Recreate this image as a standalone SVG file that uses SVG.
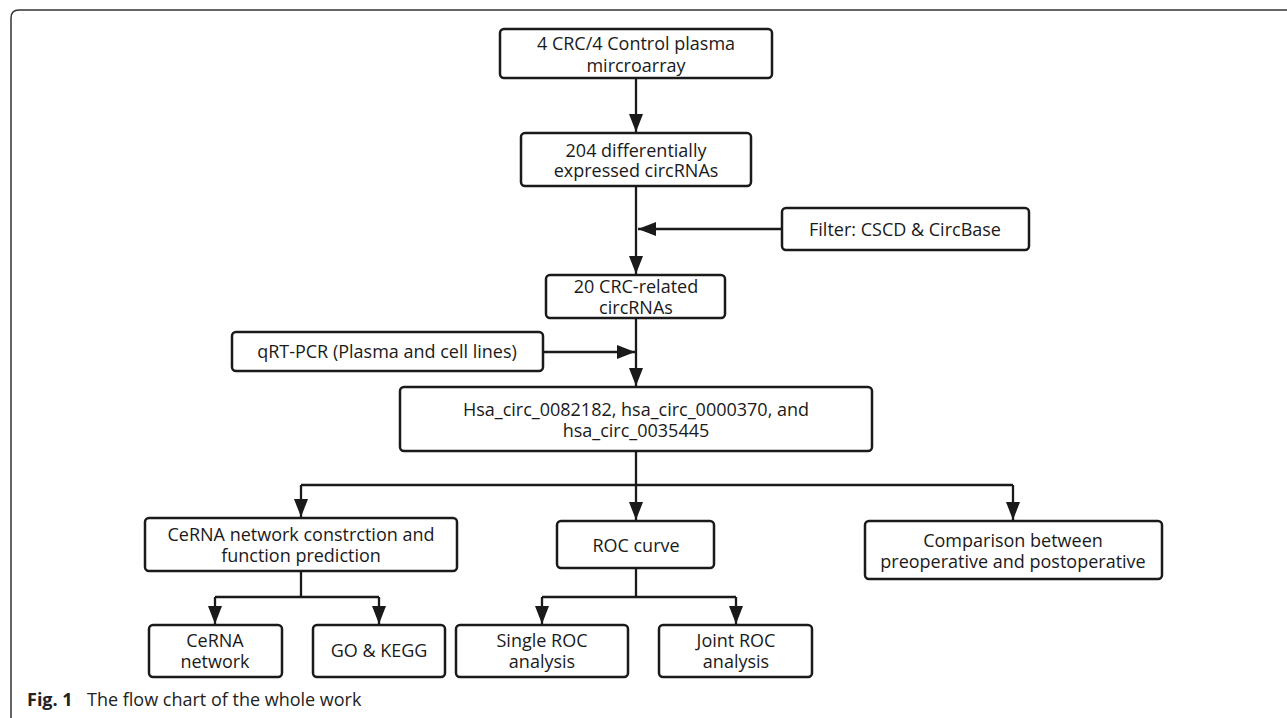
<svg xmlns="http://www.w3.org/2000/svg" width="1287" height="718" viewBox="0 0 1287 718">
<style>
.box{fill:#fff;stroke:#1a1a1a;stroke-width:2.5}
.t{font-family:"Open Sans","Noto Sans","DejaVu Sans",sans-serif;font-size:18px;fill:#1a1a1a;text-anchor:middle}
.c{fill:none;stroke:#1a1a1a;stroke-width:2.3}
.cap{font-family:"Open Sans","Noto Sans","DejaVu Sans",sans-serif;font-size:18px;fill:#222}
</style>
<defs>
<marker id="ah" markerUnits="userSpaceOnUse" markerWidth="19" markerHeight="14" refX="18" refY="7" orient="auto">
<path d="M0,0 L18,7 L0,14 z" fill="#1a1a1a"/>
</marker>
</defs>
<rect width="1287" height="718" fill="#fff"/>
<path d="M11,718 V18 Q11,10 19,10 H1287" fill="none" stroke="#333" stroke-width="1.5"/>

<g id="connectors">
<path class="c" d="M636,78 V132" marker-end="url(#ah)"/>
<path class="c" d="M636,186 V274" marker-end="url(#ah)"/>
<path class="c" d="M781,229 H638" marker-end="url(#ah)"/>
<path class="c" d="M636,318 V386" marker-end="url(#ah)"/>
<path class="c" d="M543,352 H635" marker-end="url(#ah)"/>
<path class="c" d="M636,451 V485"/>
<path class="c" d="M301,485 H1013"/>
<path class="c" d="M301,485 V517" marker-end="url(#ah)"/>
<path class="c" d="M636,485 V520" marker-end="url(#ah)"/>
<path class="c" d="M1013,485 V520" marker-end="url(#ah)"/>
<path class="c" d="M301,571 V597"/>
<path class="c" d="M215,597 H379"/>
<path class="c" d="M215,597 V624" marker-end="url(#ah)"/>
<path class="c" d="M379,597 V624" marker-end="url(#ah)"/>
<path class="c" d="M636,568 V597"/>
<path class="c" d="M542,597 H736"/>
<path class="c" d="M542,597 V624" marker-end="url(#ah)"/>
<path class="c" d="M736,597 V624" marker-end="url(#ah)"/>
</g>

<g id="n1"><rect class="box" x="500" y="29" width="272" height="49" rx="4"/>
<text class="t" x="636" y="50">4 CRC/4 Control plasma</text><text class="t" x="636" y="72">mircroarray</text></g>

<g id="n2"><rect class="box" x="521" y="133" width="230" height="53" rx="4"/>
<text class="t" x="636" y="157">204 differentially</text><text class="t" x="636" y="177">expressed circRNAs</text></g>

<g id="n3"><rect class="box" x="782" y="208" width="247" height="42" rx="4"/>
<text class="t" x="905" y="236">Filter: CSCD &amp; CircBase</text></g>

<g id="n4"><rect class="box" x="546" y="275" width="179" height="43" rx="4"/>
<text class="t" x="636" y="293">20 CRC-related</text><text class="t" x="636" y="314">circRNAs</text></g>

<g id="n5"><rect class="box" x="232" y="332" width="311" height="39" rx="4"/>
<text class="t" x="387" y="358">qRT-PCR (Plasma and cell lines)</text></g>

<g id="n6"><rect class="box" x="400" y="387" width="472" height="64" rx="4"/>
<text class="t" x="636" y="416">Hsa_circ_0082182, hsa_circ_0000370, and</text><text class="t" x="636" y="437">hsa_circ_0035445</text></g>

<g id="n7"><rect class="box" x="145" y="518" width="312" height="53" rx="4"/>
<text class="t" x="301" y="541">CeRNA network constrction and</text><text class="t" x="301" y="562">function prediction</text></g>

<g id="n8"><rect class="box" x="557" y="521" width="157" height="47" rx="4"/>
<text class="t" x="636" y="552">ROC curve</text></g>

<g id="n9"><rect class="box" x="865" y="521" width="297" height="58" rx="4"/>
<text class="t" x="1013" y="547">Comparison between</text><text class="t" x="1013" y="568">preoperative and postoperative</text></g>

<g id="n10"><rect class="box" x="149" y="625" width="133" height="52" rx="4"/>
<text class="t" x="215" y="647">CeRNA</text><text class="t" x="215" y="668">network</text></g>

<g id="n11"><rect class="box" x="313" y="625" width="132" height="52" rx="4"/>
<text class="t" x="379" y="657">GO &amp; KEGG</text></g>

<g id="n12"><rect class="box" x="456" y="625" width="172" height="52" rx="4"/>
<text class="t" x="542" y="647">Single ROC</text><text class="t" x="542" y="668">analysis</text></g>

<g id="n13"><rect class="box" x="659" y="625" width="153" height="52" rx="4"/>
<text class="t" x="736" y="647">Joint ROC</text><text class="t" x="736" y="668">analysis</text></g>

<text class="cap" x="27" y="706"><tspan font-weight="bold">Fig. 1</tspan><tspan x="87">The flow chart of the whole work</tspan></text>
</svg>
